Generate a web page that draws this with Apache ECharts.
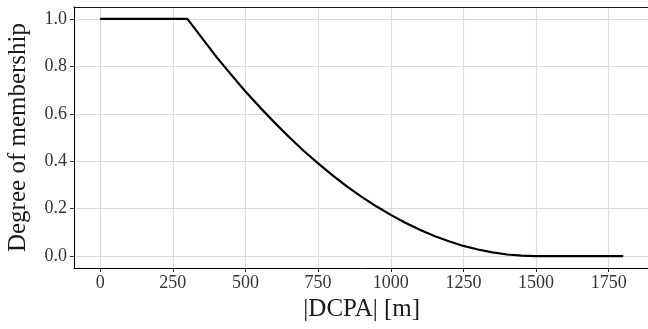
<!DOCTYPE html>
<html>
<head>
<meta charset="utf-8">
<script src="https://cdn.jsdelivr.net/npm/echarts@6/dist/echarts.min.js"></script>
<style>
html,body{margin:0;padding:0;background:#fff;}
#chart{width:648px;height:329px;}
</style>
</head>
<body>
<div id="chart"></div>
<script>
// |DCPA| values [m]
const dcpa = [0, 300, 350, 400, 450, 500, 550, 600, 650, 700, 750, 800, 850, 900, 950, 1000, 1050, 1100, 1150, 1200, 1250, 1300, 1350, 1400, 1450, 1500, 1800];
// Degree of membership
const membership = [1.0, 1.0, 0.92, 0.84, 0.766, 0.694, 0.627, 0.563, 0.502, 0.444, 0.391, 0.340, 0.293, 0.25, 0.21, 0.174, 0.141, 0.111, 0.085, 0.063, 0.043, 0.028, 0.016, 0.007, 0.002, 0.0, 0.0];
const xTicks = [0, 250, 500, 750, 1000, 1250, 1500, 1750];
const yTicks = [0.0, 0.2, 0.4, 0.6, 0.8, 1.0];

const FONT = '"Liberation Serif", "DejaVu Serif", serif';
const points = dcpa.map((x, i) => [x, membership[i]]);

const chart = echarts.init(document.getElementById('chart'), null, {renderer: 'canvas'});
chart.setOption({
  animation: false,
  grid: {left: 74, right: -1.4, top: 7, bottom: 61, show: false,
         containLabel: false, outerBoundsMode: 'none'},
  xAxis: [{
    type: 'value', min: -90, max: 1890, interval: 250,
    name: '|DCPA| [m]', nameLocation: 'middle', nameGap: 28,
    nameTextStyle: {fontFamily: FONT, fontSize: 25, color: '#1a1a1a'},
    axisLine: {show: true, onZero: false, lineStyle: {color: '#000', width: 1}},
    axisTick: {show: true, length: 4, lineStyle: {color: '#333', width: 1}, customValues: xTicks},
    axisLabel: {fontFamily: FONT, fontSize: 18, color: '#333', margin: 6, customValues: xTicks, formatter: v => String(v)},
    splitLine: {show: true, lineStyle: {color: '#dcdcdc', width: 1.2}}
  }, {
    type: 'value', position: 'top', min: -90, max: 1890,
    axisLine: {show: true, onZero: false, lineStyle: {color: '#1a1a1a', width: 1.2}},
    axisTick: {show: false}, axisLabel: {show: false}, splitLine: {show: false}
  }],
  yAxis: {
    type: 'value', min: -0.05, max: 1.05,
    name: 'Degree of membership', nameLocation: 'middle', nameGap: 43,
    nameTextStyle: {fontFamily: FONT, fontSize: 25, color: '#1a1a1a'},
    axisLine: {show: true, onZero: false, lineStyle: {color: '#000', width: 1}},
    axisTick: {show: true, length: 4, lineStyle: {color: '#333', width: 1}, customValues: yTicks},
    axisLabel: {fontFamily: FONT, fontSize: 18, color: '#333', margin: 7, customValues: yTicks, formatter: v => v.toFixed(1)},
    splitLine: {show: true, lineStyle: {color: '#dcdcdc', width: 1.2}}
  },
  series: [{
    type: 'line', data: points, showSymbol: false, smooth: false, xAxisIndex: 0,
    lineStyle: {color: '#000', width: 2.2}
  }]
});
</script>
</body>
</html>
